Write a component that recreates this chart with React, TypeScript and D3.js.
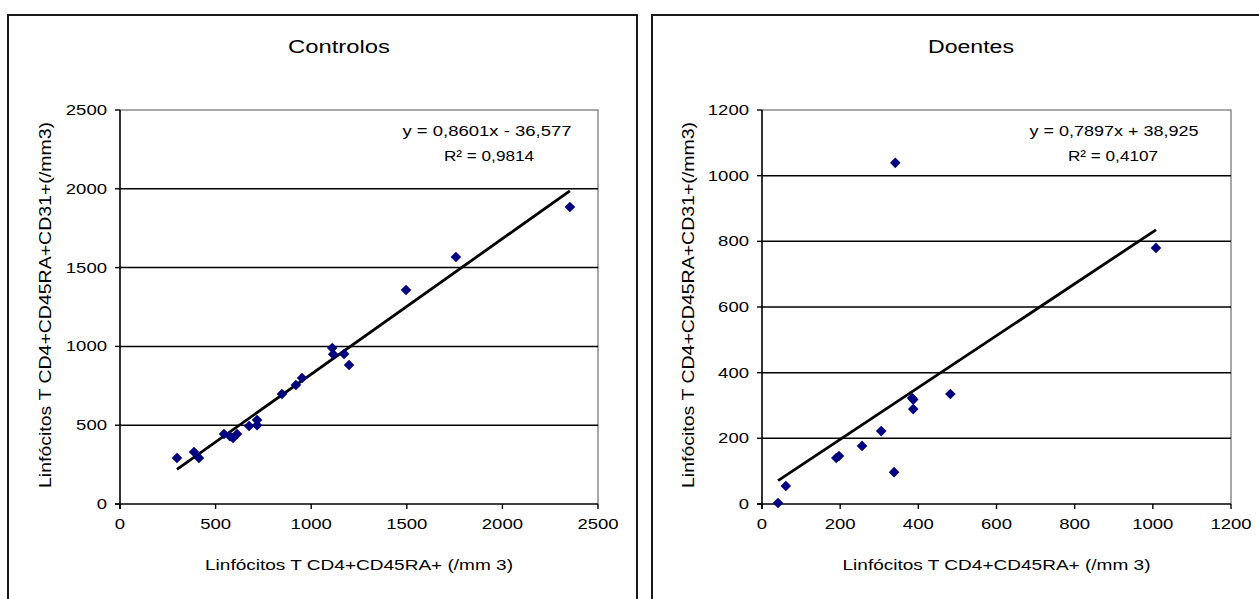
import React from 'react';
import * as d3 from 'd3';

// chart titles and labels
const titles = ['Controlos', 'Doentes'];
const xLabel = 'Linfócitos T CD4+CD45RA+ (/mm 3)';
const yLabel = 'Linfócitos T CD4+CD45RA+CD31+(/mm3)';
const equations = ['y = 0,8601x - 36,577', 'y = 0,7897x + 38,925'];
const r2Texts = ['R² = 0,9814', 'R² = 0,4107'];

// trend line parameters
const slopes = [0.8601, 0.7897];
const intercepts = [-36.577, 38.925];

// axis ticks
const controlosTicks = [0, 500, 1000, 1500, 2000, 2500];
const doentesTicks = [0, 200, 400, 600, 800, 1000, 1200];

// data
const controlosX = [298, 387, 413, 544, 575, 591, 612, 675, 717, 717, 847, 920, 952, 1110, 1115, 1172, 1198, 1496, 1757, 2353];
const controlosY = [292, 330, 292, 444, 430, 419, 444, 495, 533, 500, 698, 755, 800, 990, 950, 952, 882, 1358, 1567, 1884];
const doentesX = [41, 61, 190, 197, 256, 305, 338, 341, 384, 387, 387, 482, 1008];
const doentesY = [3, 55, 140, 146, 177, 222, 97, 1039, 323, 318, 289, 335, 780];

const FONT = 'Arial, "Liberation Sans", sans-serif';
const W = 1259;
const H = 599;

const panels = [
  { frameX: 8, frameR: 637, x0: 120, x1: 598, titleX: 339, max: 2500, ticks: controlosTicks, xs: controlosX, ys: controlosY, yLabX: 45, eqX: 487, r2X: 489 },
  { frameX: 652, frameR: 1264, x0: 762, x1: 1231, titleX: 971, max: 1200, ticks: doentesTicks, xs: doentesX, ys: doentesY, yLabX: 688, eqX: 1114, r2X: 1113 },
];
const Y0 = 504;
const Y1 = 110;

const diamond = d3.symbol().type(d3.symbolSquare).size(56)();

function Panel({ p, i }: { p: any; i: number }) {
  const x = d3.scaleLinear().domain([0, p.max]).range([p.x0, p.x1]);
  const y = d3.scaleLinear().domain([0, p.max]).range([Y0, Y1]);
  const xmin = d3.min(p.xs) as number;
  const xmax = d3.max(p.xs) as number;
  const line = d3.line<number>().x(d => x(d)).y(d => y(slopes[i] * d + intercepts[i]));
  const tickW = (s: string) => s.length * 10.3;
  return (
    <g>
      <path d={`M${p.frameX},${H + 5}V15H${p.frameR}V${H + 5}`} fill="none" stroke="#1a1a1a" strokeWidth={2} />
      <text x={p.titleX} y={53} textAnchor="middle" fontSize={18} fontFamily={FONT} textLength={i === 0 ? 102 : 86} lengthAdjust="spacingAndGlyphs">{titles[i]}</text>
      {/* plot border */}
      <path d={`M${p.x0},${Y1}H${p.x1}V${Y0}`} fill="none" stroke="#8c8c8c" strokeWidth={1.5} />
      {/* grid */}
      {p.ticks.slice(1, -1).map((t: number) => (
        <line key={'g' + t} x1={p.x0} x2={p.x1} y1={y(t)} y2={y(t)} stroke="#000" strokeWidth={1.5} />
      ))}
      {/* axes */}
      <line x1={p.x0} x2={p.x0} y1={Y1} y2={Y0 + 5} stroke="#000" strokeWidth={1.6} />
      <line x1={p.x0 - 5} x2={p.x1} y1={Y0} y2={Y0} stroke="#000" strokeWidth={1.6} />
      {p.ticks.map((t: number) => (
        <g key={'t' + t}>
          <line x1={p.x0 - 5} x2={p.x0} y1={y(t)} y2={y(t)} stroke="#000" strokeWidth={1.4} />
          <text x={p.x0 - 13} y={y(t) + 5} textAnchor="end" fontSize={14.5} fontFamily={FONT} textLength={tickW(String(t))} lengthAdjust="spacingAndGlyphs">{t}</text>
          <line x1={x(t)} x2={x(t)} y1={Y0} y2={Y0 + 5} stroke="#000" strokeWidth={1.4} />
          <text x={x(t)} y={529} textAnchor="middle" fontSize={14.5} fontFamily={FONT} textLength={tickW(String(t))} lengthAdjust="spacingAndGlyphs">{t}</text>
        </g>
      ))}
      {/* axis labels */}
      <text x={(p.x0 + p.x1) / 2} y={570} textAnchor="middle" fontSize={15.5} fontFamily={FONT} textLength={308} lengthAdjust="spacingAndGlyphs">{xLabel}</text>
      <text transform={`translate(${p.yLabX + 6},305) rotate(-90)`} textAnchor="middle" fontSize={16} fontFamily={FONT} textLength={366} lengthAdjust="spacingAndGlyphs">{yLabel}</text>
      {/* trend line */}
      <path d={line([xmin, xmax]) || ''} fill="none" stroke="#000" strokeWidth={2.8} />
      {/* points */}
      {p.xs.map((v: number, k: number) => (
        <path key={k} d={diamond} transform={`translate(${x(v)},${y(p.ys[k])}) rotate(45)`} fill="#000080" />
      ))}
      {/* equation */}
      <text x={p.eqX} y={136} textAnchor="middle" fontSize={15.5} fontFamily={FONT} textLength={169} lengthAdjust="spacingAndGlyphs">{equations[i]}</text>
      <text x={p.r2X} y={161} textAnchor="middle" fontSize={15.5} fontFamily={FONT} textLength={90} lengthAdjust="spacingAndGlyphs">{r2Texts[i]}</text>
    </g>
  );
}

export default function App() {
  return (
    <svg width={W} height={H} style={{ position: 'absolute', left: 0, top: 0, background: '#fff' }}>
      <rect width={W} height={H} fill="#fff" />
      {panels.map((p, i) => <Panel key={i} p={p} i={i} />)}
    </svg>
  );
}
